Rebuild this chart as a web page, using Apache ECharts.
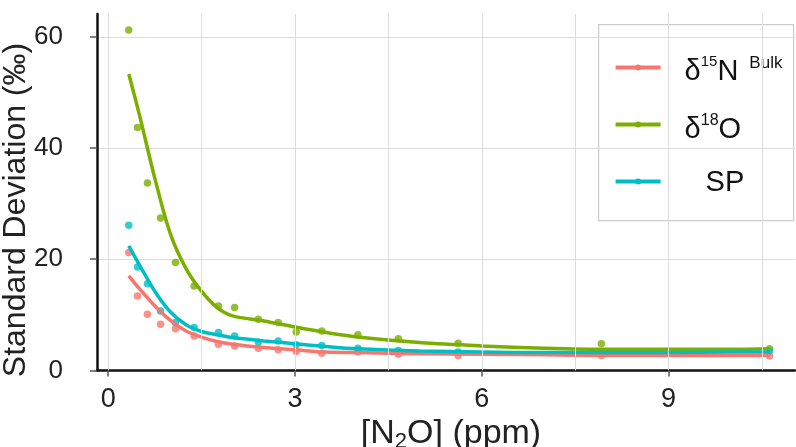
<!DOCTYPE html>
<html>
<head>
<meta charset="utf-8">
<script src="https://cdn.jsdelivr.net/npm/echarts@6/dist/echarts.min.js"></script>
<style>
  html, body { margin: 0; padding: 0; background: #fff; }
  #chart { width: 796px; height: 447px; }
</style>
</head>
<body>
<div id="chart"></div>
<script>
// concentración de N2O (ppm) de cada medida
const conc = [0.33, 0.47, 0.63, 0.84, 1.08, 1.38, 1.77, 2.03, 2.41, 2.73, 3.02, 3.43, 4.01, 4.66, 5.62, 7.92, 10.62];
// desviación estándar medida (‰)
const sdBulk = [21.2, 13.4, 10.1, 8.3, 7.5, 6.2, 4.7, 4.4, 4.0, 3.7, 3.4, 3.1, 3.3, 2.9, 2.7, 2.7, 2.6];
const sdO18 = [61.2, 43.7, 33.7, 27.4, 19.4, 15.2, 11.6, 11.3, 9.2, 8.6, 6.9, 7.1, 6.4, 5.7, 4.9, 4.8, 3.9];
const sdSP = [26.1, 18.6, 15.6, 10.7, 8.6, 7.7, 6.8, 6.2, 5.1, 5.3, 4.6, 4.5, 4.0, 3.6, 3.3, 3.3, 3.5];

// curvas ajustadas
const fitX = [0.33, 0.5, 0.75, 1.0, 1.25, 1.5, 1.75, 2.0, 2.5, 3.0, 3.5, 4.0, 5.0, 6.0, 7.0, 8.0, 9.0, 10.0, 10.62];
const fitBulk = [17.0, 14.7, 11.6, 9.0, 7.1, 6.0, 5.2, 4.7, 4.1, 3.7, 3.3, 3.2, 3.0, 2.9, 2.8, 2.7, 2.7, 2.7, 2.7];
const fitO18 = [53.3, 46.0, 34.5, 24.5, 18.3, 14.2, 11.3, 9.8, 8.9, 7.8, 6.8, 6.0, 5.0, 4.4, 4.0, 3.8, 3.8, 3.8, 3.9];
const fitSP = [22.4, 19.0, 14.2, 10.5, 8.2, 7.0, 6.4, 5.9, 5.3, 4.8, 4.3, 3.9, 3.5, 3.3, 3.2, 3.2, 3.2, 3.3, 3.3];

const xTicks = [0, 3, 6, 9];
const xGrid = [0, 1.5, 3, 4.5, 6, 7.5, 9, 10.5];
const yTicks = [0, 20, 40, 60];

const colores = { bulk: '#F8766D', o18: '#7CAE00', sp: '#00BFC4' };
const fuente = 'Liberation Sans, Arial, sans-serif';

const pares = (xs, ys) => xs.map((x, i) => [x, ys[i]]);

function puntos(name, ys, color) {
  return {
    name, type: 'scatter', data: pares(conc, ys),
    symbolSize: 7.5, itemStyle: { color }, z: 3, silent: true
  };
}
function curva(name, ys, color) {
  return {
    name, type: 'line', data: pares(fitX, ys),
    smooth: 0.35, showSymbol: false,
    lineStyle: { color, width: 3.5 }, z: 4, silent: true
  };
}

const chart = echarts.init(document.getElementById('chart'));
const option = {
  backgroundColor: '#fff',
  animation: false,
  textStyle: { fontFamily: fuente },
  grid: { left: 97, top: 14, width: 698, bottom: 76.6 },
  xAxis: {
    type: 'value', min: -0.18, max: 11.03,
    axisLine: { onZero: false, lineStyle: { color: '#111', width: 2.5 } },
    axisTick: { customValues: xTicks, length: 6, lineStyle: { color: '#555', width: 1.5 } },
    axisLabel: { customValues: xTicks, fontSize: 27, color: '#222', margin: 16 },
    splitLine: { show: false }
  },
  yAxis: {
    type: 'value', min: 0, max: 64.1, interval: 10,
    axisLine: { show: true, onZero: false, lineStyle: { color: '#111', width: 2.5 } },
    axisTick: { customValues: yTicks, length: 7, lineStyle: { color: '#555', width: 1.5 } },
    axisLabel: { customValues: yTicks, fontSize: 26, color: '#222', margin: 34 },
    splitLine: { lineStyle: { color: '#dcdcdc', width: 1 } }
  },
  series: [
    {
      type: 'line', data: [], silent: true, z: 1,
      markLine: {
        silent: true, symbol: 'none', label: { show: false }, animation: false,
        lineStyle: { color: '#dcdcdc', width: 1, type: 'solid' },
        data: xGrid.map(v => ({ xAxis: v }))
      }
    },
    puntos('bulkPts', sdBulk, colores.bulk),
    puntos('o18Pts', sdO18, colores.o18),
    puntos('spPts', sdSP, colores.sp),
    curva('bulkFit', fitBulk, colores.bulk),
    curva('o18Fit', fitO18, colores.o18),
    curva('spFit', fitSP, colores.sp)
  ],
  graphic: [
    // título eje Y
    {
      type: 'text', x: 16, y: 210, rotation: Math.PI / 2,
      style: { text: 'Standard Deviation (‰)', font: '32px ' + fuente, fill: '#222', align: 'center', verticalAlign: 'middle' }
    },
    // título eje X
    {
      type: 'text', x: 451, y: 434,
      style: {
        text: '[N{s|2}O] (ppm)', font: '34px ' + fuente, fill: '#222', align: 'center', verticalAlign: 'middle',
        rich: { s: { fontSize: 22, fontFamily: fuente, fill: '#222', verticalAlign: 'bottom', padding: [15, 0, 0, 0] } }
      }
    },
    // leyenda
    {
      type: 'group', left: 598, top: 24,
      children: [
        { type: 'rect', shape: { x: 0, y: 0, width: 195, height: 196 }, style: { fill: '#fff', stroke: '#cccccc', lineWidth: 1.2 } },
        { type: 'line', shape: { x1: 17, y1: 43, x2: 62, y2: 43 }, style: { stroke: colores.bulk, lineWidth: 4 } },
        { type: 'circle', shape: { cx: 39.5, cy: 43, r: 3 }, style: { fill: colores.bulk } },
        { type: 'line', shape: { x1: 17, y1: 100, x2: 62, y2: 100 }, style: { stroke: colores.o18, lineWidth: 4 } },
        { type: 'circle', shape: { cx: 39.5, cy: 100, r: 3 }, style: { fill: colores.o18 } },
        { type: 'line', shape: { x1: 17, y1: 157, x2: 62, y2: 157 }, style: { stroke: colores.sp, lineWidth: 4 } },
        { type: 'circle', shape: { cx: 39.5, cy: 157, r: 3 }, style: { fill: colores.sp } },
        {
          type: 'text', x: 86, y: 47,
          style: {
            text: '{m|δ}{u|15}{m|N}{b|Bulk}', verticalAlign: 'middle',
            rich: {
              m: { fontSize: 29, fontFamily: fuente, fill: '#111', lineHeight: 34 },
              u: { fontSize: 15, fontFamily: fuente, fill: '#111', verticalAlign: 'top', lineHeight: 17 },
              b: { fontSize: 17, fontFamily: fuente, fill: '#111', verticalAlign: 'top', lineHeight: 14, padding: [0, 0, 0, 11] }
            }
          }
        },
        {
          type: 'text', x: 86, y: 105,
          style: {
            text: '{m|δ}{u|18}{m|O}', verticalAlign: 'middle',
            rich: {
              m: { fontSize: 29, fontFamily: fuente, fill: '#111', lineHeight: 34 },
              u: { fontSize: 16, fontFamily: fuente, fill: '#111', verticalAlign: 'top', lineHeight: 17 }
            }
          }
        },
        {
          type: 'text', x: 107, y: 158,
          style: { text: 'SP', font: '29px ' + fuente, fill: '#111', verticalAlign: 'middle' }
        }
      ]
    }
  ]
};
chart.setOption(option);
window.addEventListener('resize', () => chart.resize());
</script>
</body>
</html>
